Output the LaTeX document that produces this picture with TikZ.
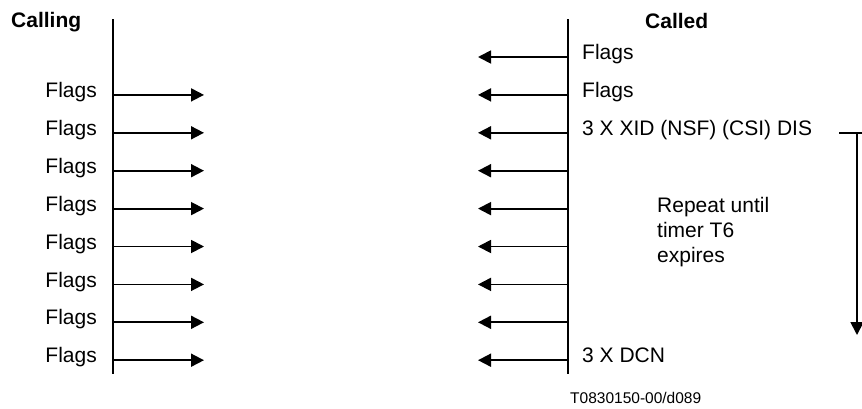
\documentclass[tikz,border=0pt]{standalone}
\usepackage{fontspec}
\setmainfont{Liberation Sans}
\usetikzlibrary{arrows.meta,positioning}
\tikzset{
  lifeline/.style={line width=1.8pt},
  msg/.style={line width=1.8pt,-{Triangle[length=13pt,width=13pt]}},
  lbl/.style={inner sep=0pt,font=\fontsize{21}{25}\selectfont},
  head/.style={inner sep=0pt,font=\fontsize{21}{25}\selectfont\bfseries}
}

\begin{document}
\begin{tikzpicture}[x=1pt,y=-1pt]
  \useasboundingbox (0,0) rectangle (862,408);
  \coordinate (callingtop) at (113,19);
  \coordinate (callingbot) at (113,374);
  \coordinate (calledtop) at (568,19);
  \coordinate (calledbot) at (568,374);
  \draw[lifeline] (callingtop) -- (callingbot);
  \draw[lifeline] (calledtop) -- (calledbot);
  \node[head, anchor=base west] (calling) at (11,27) {Calling};
  \node[head, anchor=base west] (called) at (645,28) {Called};
  \foreach \i [evaluate=\i as \y using 57+37.9*\i] in {0,...,8} {
    \coordinate (rs\i) at (568,\y);
    \coordinate (re\i) at (478,\y);
    \draw[msg] (rs\i) -- (re\i);
  }
  \foreach \i [evaluate=\i as \y using 57+37.9*\i] in {1,...,8} {
    \coordinate (ls\i) at (113,\y);
    \coordinate (le\i) at (204,\y);
    \draw[msg] (ls\i) -- (le\i);
    \node[lbl, left=16pt of ls\i, anchor=mid east] (lflags\i) {Flags};
  }
  \node[lbl, right=14pt of rs0, anchor=mid west] (rflags0) {Flags};
  \node[lbl, right=14pt of rs1, anchor=mid west] (rflags1) {Flags};
  \node[lbl, right=14pt of rs2, anchor=mid west] (xid) {3 X XID (NSF) (CSI) DIS};
  \node[lbl, right=14pt of rs8, anchor=mid west] (dcn) {3 X DCN};
  \coordinate (timerstart) at (839,132.8);
  \coordinate (timerend) at (862,132.8);
  \coordinate (timertop) at (857,132.8);
  \coordinate (timertip) at (857,335);
  \draw[lifeline] (timerstart) -- (timerend);
  \draw[msg] (timertop) -- (timertip);
  \node[lbl, anchor=north west, align=left] (repeat) at (657,197.5) {Repeat until\\timer T6\\expires};
  \node[lbl, font=\fontsize{15.5}{18}\selectfont, anchor=base west] (figref) at (570,403) {T0830150-00/d089};
\end{tikzpicture}
\end{document}
